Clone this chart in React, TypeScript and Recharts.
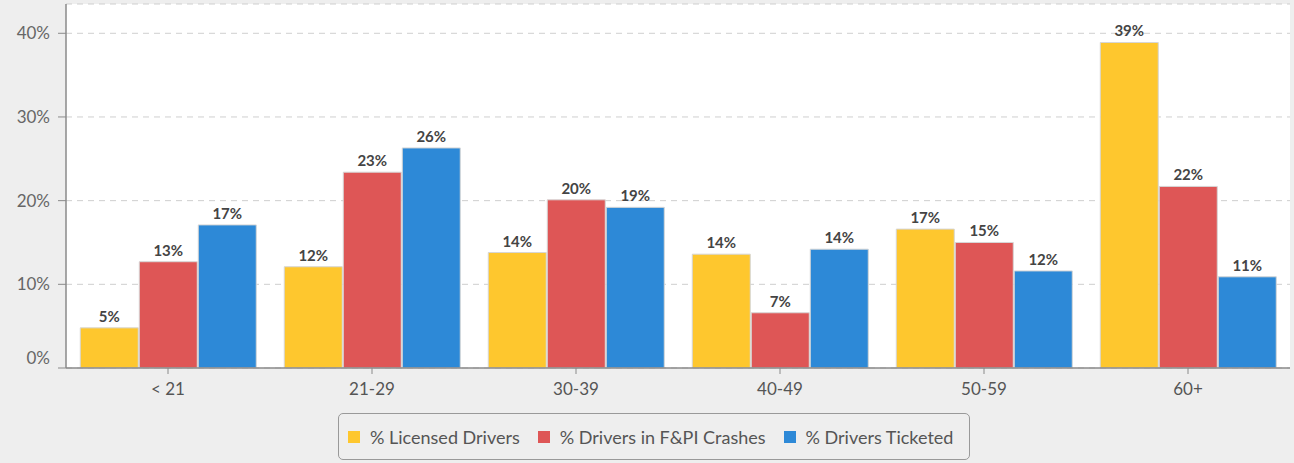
import { BarChart, Bar, XAxis, YAxis, CartesianGrid, LabelList } from "recharts";

const ageGroups = ["< 21", "21-29", "30-39", "40-49", "50-59", "60+"];
const licensedDrivers = [4.8, 12.1, 13.8, 13.6, 16.6, 38.9];
const crashDrivers = [12.7, 23.4, 20.1, 6.6, 15.0, 21.7];
const ticketedDrivers = [17.1, 26.3, 19.2, 14.2, 11.6, 10.9];
const yTicks = [0, 10, 20, 30, 40];

const series = [
  { key: "licensed", name: "% Licensed Drivers", color: "#FEC72E", values: licensedDrivers },
  { key: "crashes", name: "% Drivers in F&PI Crashes", color: "#DE5656", values: crashDrivers },
  { key: "ticketed", name: "% Drivers Ticketed", color: "#2D89D7", values: ticketedDrivers },
];

const data = ageGroups.map((group, i) => {
  const row: Record<string, string | number> = { group };
  series.forEach((s) => {
    row[s.key] = s.values[i];
  });
  return row;
});

const FONT = "Lato, 'Open Sans', sans-serif";

const YTick = (props: any) => {
  const { x, y, payload } = props;
  // the 0% label sits a bit above the baseline
  const shift = payload.value === 0 ? -10 : 0;
  return (
    <text x={x} y={y + shift} dy="0.35em" textAnchor="end" fill="#666" fontSize={17} fontFamily={FONT}>
      {payload.value}%
    </text>
  );
};

export default function App() {
  return (
    <div
      style={{
        position: "absolute",
        left: 0,
        top: 0,
        width: 1294,
        height: 463,
        background: "#eeeeee",
        fontFamily: FONT,
      }}
    >
      <BarChart
        width={1294}
        height={463}
        data={data}
        margin={{ top: 4, right: 4, left: 0, bottom: 65 }}
        barCategoryGap="7%"
        barGap={1}
      >
        <CartesianGrid vertical={false} strokeDasharray="6 5" stroke="#cfcfcf" fill="#ffffff" />
        <XAxis
          dataKey="group"
          height={30}
          axisLine={{ stroke: "#8a8a8a", strokeWidth: 1.5 }}
          tickLine={{ stroke: "#8a8a8a" }}
          tickSize={6}
          tickMargin={9}
          tick={{ fill: "#555", fontSize: 17, fontFamily: FONT }}
        />
        <YAxis
          width={66}
          domain={[0, 43.5]}
          ticks={yTicks}
          allowDataOverflow
          axisLine={{ stroke: "#8a8a8a", strokeWidth: 1.5 }}
          tickLine={{ stroke: "#8a8a8a" }}
          tickSize={8}
          tickMargin={8}
          tick={<YTick />}
        />
        {series.map((s) => (
          <Bar
            key={s.key}
            dataKey={s.key}
            name={s.name}
            fill={s.color}
            stroke="#d6d6d6"
            strokeWidth={1}
            isAnimationActive={false}
          >
            <LabelList
              dataKey={s.key}
              position="top"
              offset={6}
              formatter={(v: any) => `${Math.round(Number(v))}%`}
              style={{ fill: "#444", fontSize: 15, fontWeight: 700, fontFamily: FONT }}
            />
          </Bar>
        ))}
      </BarChart>
      <div
        style={{
          position: "absolute",
          left: 338,
          top: 413,
          width: 632,
          height: 47,
          boxSizing: "border-box",
          border: "1.5px solid #999",
          borderRadius: 5,
          display: "flex",
          alignItems: "center",
          paddingLeft: 9,
          gap: 18,
          color: "#555",
          fontSize: 18,
        }}
      >
        {series.map((s) => (
          <div key={s.key} style={{ display: "flex", alignItems: "center", gap: 10 }}>
            <span style={{ width: 12, height: 12, background: s.color, display: "inline-block" }} />
            <span>{s.name}</span>
          </div>
        ))}
      </div>
    </div>
  );
}
